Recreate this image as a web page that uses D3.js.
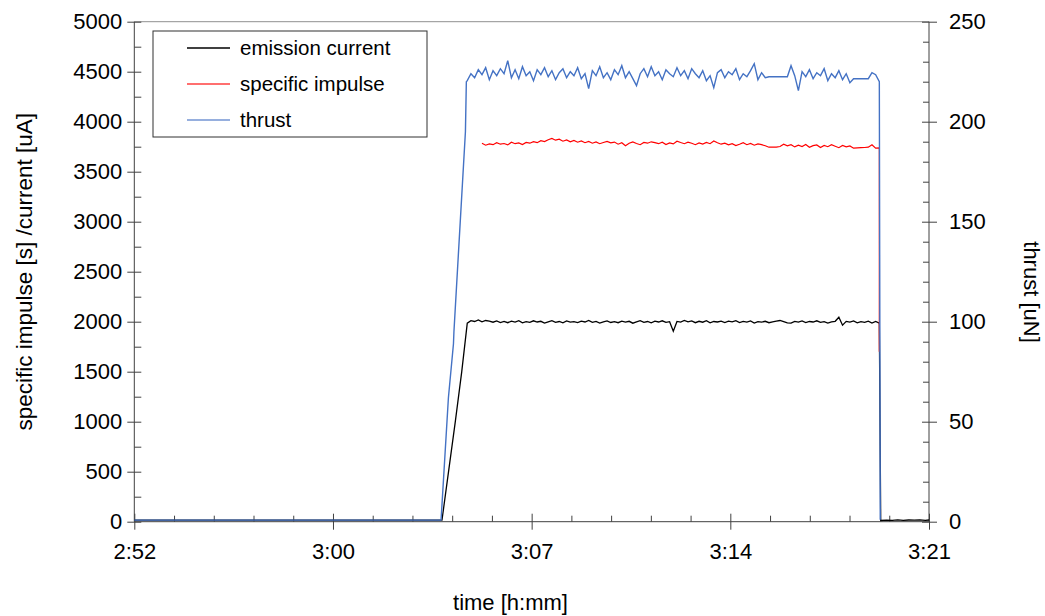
<!DOCTYPE html>
<html>
<head>
<meta charset="utf-8">
<script src="https://cdn.jsdelivr.net/npm/d3@7"></script>
<style>
    body { margin: 0; background: #fff; }
    svg text { font-family: "Liberation Sans", Arial, sans-serif; fill: #000; }
</style>
</head>
<body>
<div id="chart"></div>
<script>
// ---- data ----
var seriesNames = ["emission current", "specific impulse", "thrust"];
var seriesColors = ["#000000", "#ff0000", "#4472c4"];

var timeDomain = ["2:52:48", "3:21:36"];
var xMajorLabels = ["2:52", "3:00", "3:07", "3:14", "3:21"];

// start-up ramp, [time, value]
var currentRamp = [["2:52:48", 15], ["3:03:57", 15], ["3:04:26", 1000], ["3:04:40", 1500]];
var thrustRamp = [["2:52:48", 0.8], ["3:03:55", 0.8], ["3:04:11", 62], ["3:04:22", 89], ["3:04:23", 95], ["3:04:48", 195], ["3:04:50", 220]];

// steady firing, one sample every 8 s from plateauStart
var plateauStart = "3:04:52";
var sampleSeconds = 8;

var currentValues = [
    1985, 2010, 2002, 2018, 1998, 2012, 2005, 1995, 2008, 1992,
    2003, 1990, 2006, 1996, 2010, 1988, 2001, 1994, 2009, 1997,
    2004, 1986, 1999, 2011, 1993, 2002, 1989, 2007, 1995, 2000,
    1991, 2005, 1997, 2012, 1994, 2003, 1987, 1999, 2008, 1992,
    2001, 1990, 2006, 1996, 2004, 1985, 1998, 2010, 1994, 2002,
    1989, 2005, 1997, 2009, 1993, 2000, 1905, 2003, 1996, 2012,
    1999, 2008, 1990, 2004, 1995, 2010, 1988, 2002, 1997, 2006,
    1992, 2005, 1998, 2010, 1991, 2003, 1995, 2008, 1987, 2001,
    1996, 2004, 1990, 1999, 2006, 2012, 2000, 1988, 1985, 2003,
    1995, 2007, 1991, 2002, 1997, 2009, 1993, 2001, 1986, 1998,
    2004, 2045, 1965, 2003, 1996, 2008, 1989, 2000, 1994, 2006,
    1987, 2002, 1985
];

var impulseValues = [
    null, null, null, null, 3785, 3765, 3778, 3770, 3790, 3775,
    3782, 3768, 3795, 3780, 3788, 3772, 3792, 3785, 3800, 3790,
    3810, 3802, 3820, 3832, 3815, 3825, 3805, 3818, 3798, 3812,
    3795, 3808, 3790, 3803, 3785, 3798, 3780, 3792, 3802, 3788,
    3796, 3775, 3790, 3760, 3785, 3797, 3782, 3770, 3793, 3785,
    3799, 3790, 3780, 3795, 3772, 3788, 3778, 3805, 3792, 3780,
    3795, 3784, 3770, 3788, 3776, 3792, 3780, 3808, 3790, 3775,
    3785, 3768, 3780, 3762, 3775, 3790, 3770, 3782, 3765, 3778,
    3770, 3760, 3745, 3745, 3745, 3752, 3775, 3758, 3770, 3748,
    3765, 3752, 3772, 3745, 3760, 3768, 3742, 3762, 3750, 3770,
    3755, 3740, 3762, 3748, 3758, 3735, 3738, 3740, 3742, 3745,
    3770, 3735, 3738
];

var thrustValues = [
    220.5, 224, 222, 226, 223.5, 227, 221, 225.5, 223, 226.5,
    224, 230.5, 222, 226, 221.5, 227.5, 223, 225, 220.5, 226,
    223.5, 227, 222.5, 225.5, 221, 224.5, 226.5, 222, 225, 223,
    227, 221.5, 224, 216.5, 225.5, 223, 227.5, 222, 224.5, 221,
    226, 223.5, 228, 222, 225, 221.5, 218, 224, 226.5, 222.5,
    227.5, 223, 225, 221, 226, 224, 222.5, 227, 223, 225.5,
    221.5, 226.5, 224, 222, 225.5, 220.5, 223, 217, 224.5, 226,
    222, 225, 223.5, 226.5, 221, 224, 222.5, 225.5, 229, 221,
    224.5, 222, 222.5, 222.5, 222.5, 222.5, 222.5, 222.5, 228, 223,
    215.5, 225, 222.5, 226, 221.5, 224.5, 223, 226.5, 220.5, 224,
    222, 225.5, 221, 224, 219.5, 221.5, 221.5, 221.5, 221.5, 221.5,
    224.5, 223.5, 220
];

// after shut-down
var currentTail = [["3:19:51", 12], ["3:20:04", 16], ["3:20:16", 14], ["3:20:28", 18], ["3:20:40", 13],
    ["3:20:52", 17], ["3:21:04", 15], ["3:21:16", 19], ["3:21:28", 14], ["3:21:36", 17]];
var impulseTail = [["3:19:48", 1700]];
var thrustTail = [["3:19:50", 1]];

var leftTicks = [0, 500, 1000, 1500, 2000, 2500, 3000, 3500, 4000, 4500, 5000];
var rightTicks = [0, 50, 100, 150, 200, 250];

// ---- chart ----
var W = 1045, H = 616;
var margin = { top: 21.7, right: 116, bottom: 94.3, left: 134.3 },
    width = W - margin.left - margin.right,
    height = H - margin.top - margin.bottom;

var parse = d3.timeParse("%H:%M:%S");

function buildSeries(ramp, values, tail) {
    var pts = ramp.map(function (d) { return { t: parse(d[0]), v: d[1] }; });
    var t0 = parse(plateauStart).getTime();
    values.forEach(function (v, i) {
        pts.push({ t: new Date(t0 + i * sampleSeconds * 1000), v: v });
    });
    tail.forEach(function (d) { pts.push({ t: parse(d[0]), v: d[1] }); });
    return pts;
}

var currentData = buildSeries(currentRamp, currentValues, currentTail);
var impulseData = buildSeries([], impulseValues, impulseTail);
var thrustData = buildSeries(thrustRamp, thrustValues, thrustTail);

var svg = d3.select("#chart").append("svg")
    .attr("width", W)
    .attr("height", H)
    .append("g")
    .attr("transform", "translate(" + margin.left + "," + margin.top + ")");

var x = d3.scaleTime()
    .domain(timeDomain.map(parse))
    .range([0, width]);

var yl = d3.scaleLinear().domain([0, 5000]).range([height, 0]);
var yr = d3.scaleLinear().domain([0, 250]).range([height, 0]);

// tick positions: 7.2 min majors, 1.44 min minors
var tStart = parse(timeDomain[0]).getTime();
var xMajor = d3.range(0, 5).map(function (k) { return new Date(tStart + k * 432000); });
var xMinor = d3.range(0, 21).filter(function (k) { return k % 5 != 0; })
    .map(function (k) { return new Date(tStart + k * 86400); });

var axisColor = "#404040";

function styleAxis(g) {
    g.select(".domain").remove();
    g.selectAll("line").attr("stroke", axisColor).attr("stroke-width", 1);
    g.selectAll("text").style("font-size", "22px");
}

// frame top
svg.append("line")
    .attr("x1", 0).attr("x2", width).attr("y1", 0).attr("y2", 0)
    .attr("stroke", "#909090").attr("stroke-width", 1);

// x axis
svg.append("g")
    .attr("transform", "translate(0," + height + ")")
    .call(d3.axisBottom(x).tickValues(xMinor).tickSize(-6).tickFormat(""))
    .call(styleAxis);

var xg = svg.append("g")
    .attr("transform", "translate(0," + height + ")")
    .call(d3.axisBottom(x).tickValues(xMajor).tickSize(8)
        .tickFormat(function (d, i) { return xMajorLabels[i]; }))
    .call(styleAxis);
xg.selectAll(".tick line").attr("y1", -8);
xg.selectAll(".tick text").attr("y", 22);

svg.append("line")
    .attr("x1", 0).attr("x2", width).attr("y1", height).attr("y2", height)
    .attr("stroke", axisColor);

// left axis
svg.append("g")
    .call(d3.axisLeft(yl).tickValues(d3.range(250, 5000, 500)).tickSize(-7).tickFormat(""))
    .call(styleAxis);
var lg = svg.append("g")
    .call(d3.axisLeft(yl).tickValues(leftTicks).tickSize(7).tickFormat(d3.format("d")))
    .call(styleAxis);
lg.selectAll(".tick line").attr("x1", 7);
lg.selectAll(".tick text").attr("x", -12);
svg.append("line")
    .attr("x1", 0).attr("x2", 0).attr("y1", 0).attr("y2", height)
    .attr("stroke", axisColor);

// right axis
svg.append("g")
    .attr("transform", "translate(" + width + ",0)")
    .call(d3.axisRight(yr).tickValues(d3.range(10, 250, 10).filter(function (v) { return v % 50 != 0; }))
        .tickSize(-6).tickFormat(""))
    .call(styleAxis);
var rg = svg.append("g")
    .attr("transform", "translate(" + width + ",0)")
    .call(d3.axisRight(yr).tickValues(rightTicks).tickSize(8))
    .call(styleAxis);
rg.selectAll(".tick line").attr("x1", -7);
rg.selectAll(".tick text").attr("x", 20);
svg.append("line")
    .attr("x1", width).attr("x2", width).attr("y1", 0).attr("y2", height)
    .attr("stroke", axisColor);

// lines
var lineL = d3.line()
    .defined(function (d) { return d.v != null; })
    .x(function (d) { return x(d.t); })
    .y(function (d) { return yl(d.v); });
var lineR = d3.line()
    .x(function (d) { return x(d.t); })
    .y(function (d) { return yr(d.v); });

svg.append("path").datum(currentData)
    .attr("fill", "none").attr("stroke", seriesColors[0]).attr("stroke-width", 1.3)
    .attr("d", lineL);
svg.append("path").datum(impulseData)
    .attr("fill", "none").attr("stroke", seriesColors[1]).attr("stroke-width", 1.2)
    .attr("d", lineL);
svg.append("path").datum(thrustData)
    .attr("fill", "none").attr("stroke", seriesColors[2]).attr("stroke-width", 1.4)
    .attr("d", lineR);

// axis titles
svg.append("text")
    .attr("x", (W / 2 - 12) - margin.left)
    .attr("y", 588)
    .attr("text-anchor", "middle")
    .style("font-size", "22px")
    .text("time [h:mm]");

svg.append("text")
    .attr("transform", "translate(" + (32 - margin.left) + "," + (height / 2) + ") rotate(-90)")
    .attr("text-anchor", "middle")
    .style("font-size", "22.5px")
    .text("specific impulse [s] /current [uA]");

svg.append("text")
    .attr("transform", "translate(" + (1024 - margin.left) + "," + (292 - margin.top) + ") rotate(90)")
    .attr("text-anchor", "middle")
    .style("font-size", "22px")
    .text("thrust [uN]");

// legend
var legend = svg.append("g")
    .attr("transform", "translate(" + (153 - margin.left) + "," + (31 - margin.top) + ")");
legend.append("rect")
    .attr("width", 274).attr("height", 106)
    .attr("fill", "#fff").attr("stroke", "#303030").attr("stroke-width", 1);

seriesNames.forEach(function (name, i) {
    var yy = 17 + i * 36;
    legend.append("line")
        .attr("x1", 34).attr("x2", 77).attr("y1", yy).attr("y2", yy)
        .attr("stroke", seriesColors[i]).attr("stroke-width", 1.3)
        .attr("opacity", i == 0 ? 1 : 0.75);
    legend.append("text")
        .attr("x", 87).attr("y", yy + 7)
        .style("font-size", "20.5px")
        .text(name);
});
</script>
</body>
</html>
